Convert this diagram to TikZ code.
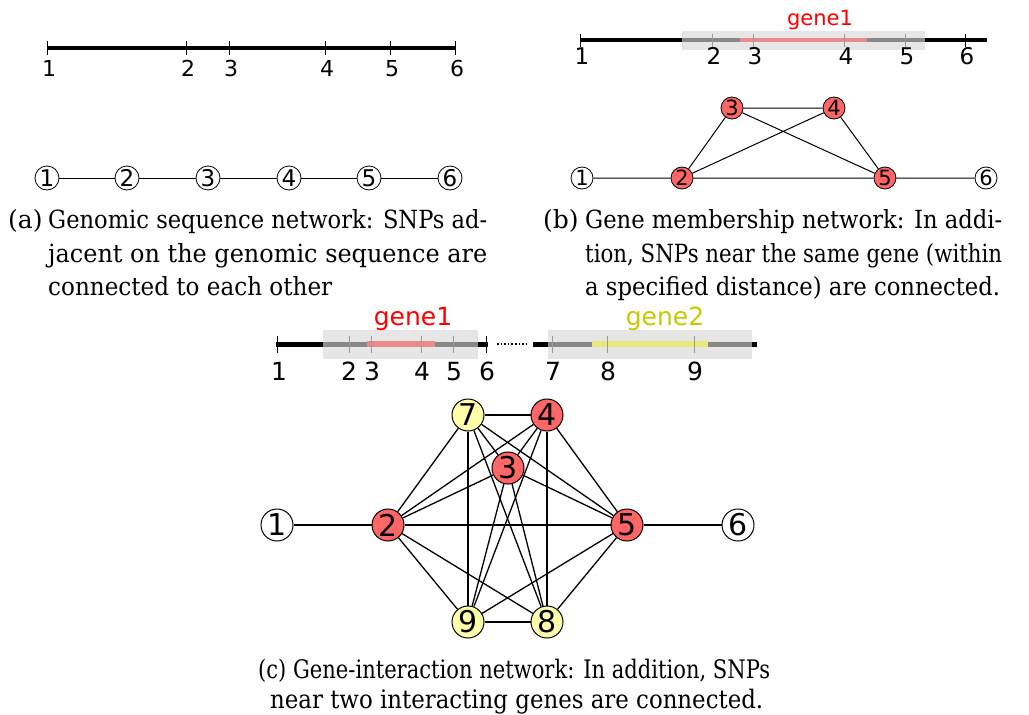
\documentclass[tikz,border=0pt]{standalone}
\usepackage{fontspec}
\usepackage{graphicx}
\setmainfont{DejaVu Serif}
\newfontfamily\labfont{DejaVu Sans}
\usetikzlibrary{backgrounds}
\definecolor{nodered}{HTML}{FF6666}
\definecolor{nodeyel}{HTML}{FFFFAA}
\definecolor{boxgray}{HTML}{E6E6E6}
\definecolor{linegray}{HTML}{888888}
\definecolor{tickgray}{HTML}{9A9A9A}
\definecolor{segpink}{HTML}{EB8A8A}
\definecolor{segyel}{HTML}{E8E87E}
\definecolor{geneyel}{HTML}{C8C800}
\tikzset{
  snpA/.style={circle,draw=black,line width=0.8pt,fill=white,minimum size=24pt,inner sep=0pt,font=\labfont\fontsize{23}{23}\selectfont},
  snpB/.style={circle,draw=black,line width=0.8pt,fill=white,minimum size=22pt,inner sep=0pt,font=\labfont\fontsize{21}{21}\selectfont},
  snpC/.style={circle,draw=black,line width=1pt,fill=white,minimum size=32pt,inner sep=0pt,font=\labfont\fontsize{30}{30}\selectfont},
  redn/.style={fill=nodered},
  yeln/.style={fill=nodeyel},
  edgeA/.style={line width=1pt,black},
  edgeC/.style={line width=1.3pt},
  poslabA/.style={anchor=base,inner sep=0pt,font=\labfont\fontsize{22}{22}\selectfont},
  poslabB/.style={anchor=base,inner sep=0pt,font=\labfont\fontsize{23}{23}\selectfont},
  poslabC/.style={anchor=base,inner sep=0pt,font=\labfont\fontsize{25}{25}\selectfont},
  capline/.style={anchor=base west,inner sep=0pt,font=\fontsize{25}{25}\selectfont},
  caplineC/.style={anchor=base west,inner sep=0pt,font=\fontsize{25.5}{25.5}\selectfont},
}
\begin{document}
\begin{tikzpicture}[x=1pt,y=-1pt]
\useasboundingbox (0,0) rectangle (1029,715);

% ---------------- panel (a) genome
\draw[line width=3.5pt] (47,48) -- (455,48);
\foreach \x/\l in {47/1,186/2,229/3,325/4,390/5,455/6}{
  \draw[line width=0.9pt] (\x,41) -- (\x,55);
  \node[poslabA] (al\l) at (\x+2,76) {\l};
}
% panel (a) network
\foreach \x/\l in {47/1,127/2,208/3,289/4,369/5,450/6}{
  \node[snpA] (a\l) at (\x,178) {\l};
}
\draw[edgeA] (a1) -- (a2) (a2) -- (a3) (a3) -- (a4) (a4) -- (a5) (a5) -- (a6);

% ---------------- panel (b) genome
\draw[line width=3.5pt] (580,40) -- (987,40);
\fill[boxgray] (682,31) rectangle (925,50);
\draw[linegray,line width=3.5pt] (682,40) -- (925,40);
\draw[segpink,line width=3.5pt] (740,40) -- (867,40);
\foreach \x in {712,753,844,905}{\draw[tickgray,line width=0.9pt] (\x,34) -- (\x,47);}
\foreach \x in {580,965}{\draw[line width=0.9pt] (\x,34) -- (\x,47);}
\foreach \x/\l in {582/1,714/2,755/3,846/4,907/5,967/6}{
  \node[poslabB] (bl\l) at (\x,64) {\l};
}
\node[anchor=base,inner sep=0pt,text=red,font=\labfont\fontsize{21}{21}\selectfont] (g1b) at (820,25) {gene1};
% panel (b) network
\node[snpB] (b1) at (582,178) {1};
\node[snpB,redn] (b2) at (682,178) {2};
\node[snpB,redn] (b3) at (732,108) {3};
\node[snpB,redn] (b4) at (834,108) {4};
\node[snpB,redn] (b5) at (885,178) {5};
\node[snpB] (b6) at (986,178) {6};
\begin{scope}[on background layer]
\draw[edgeA] (b1) -- (b2) (b2) -- (b5) (b5) -- (b6) (b2) -- (b3) (b2) -- (b4)
  (b3) -- (b4) (b3) -- (b5) (b4) -- (b5);
\end{scope}

% ---------------- captions (a), (b)
\node[capline] (capa0) at (8,228) {(a)};
\node[capline] (capa1) at (48,228) {\resizebox{439pt}{\height}{Genomic sequence network: SNPs ad-}};
\node[capline] (capa2) at (48,262) {\resizebox{439pt}{\height}{jacent on the genomic sequence are}};
\node[capline] (capa3) at (48,295) {\resizebox{284pt}{\height}{connected to each other}};
\node[capline] (capb0) at (543,228) {(b)};
\node[capline] (capb1) at (585,228) {\resizebox{417pt}{\height}{Gene membership network: In addi-}};
\node[capline] (capb2) at (585,262) {\resizebox{417pt}{\height}{tion, SNPs near the same gene (within}};
\node[capline] (capb3) at (585,295) {\resizebox{415pt}{\height}{a specified distance) are connected.}};

% ---------------- panel (c) genome
\draw[line width=5pt] (276,344) -- (488,344);
\draw[line width=5pt] (533,344) -- (757,344);
\fill[boxgray] (323,330) rectangle (478,359);
\fill[boxgray] (548,330) rectangle (752,359);
\draw[linegray,line width=5pt] (323,344) -- (478,344);
\draw[linegray,line width=5pt] (548,344) -- (752,344);
\draw[segpink,line width=5.5pt] (367,344) -- (435,344);
\draw[segyel,line width=5.5pt] (592,344) -- (708,344);
\draw[line width=1.6pt,dotted] (497,344) -- (529,344);
\foreach \x in {349,371,421,453,552,607,694}{\draw[tickgray,line width=1pt] (\x,336) -- (\x,353);}
\foreach \x in {277,486}{\draw[line width=1pt] (\x,336) -- (\x,353);}
\foreach \x/\l in {279/1,349/2,372/3,422/4,454/5,487/6,553/7,608/8,695/9}{
  \node[poslabC] (cl\l) at (\x,380) {\l};
}
\node[anchor=base,inner sep=0pt,text=red,font=\labfont\fontsize{25}{25}\selectfont] (g1c) at (413,325) {gene1};
\node[anchor=base,inner sep=0pt,text=geneyel,font=\labfont\fontsize{25}{25}\selectfont] (g2c) at (665,325) {gene2};

% panel (c) network
\node[snpC] (c1) at (277,525) {1};
\node[snpC,redn] (c2) at (388,525) {2};
\node[snpC,redn] (c3) at (508,468) {3};
\node[snpC,redn] (c4) at (547,415) {4};
\node[snpC,redn] (c5) at (627,525) {5};
\node[snpC] (c6) at (738,525) {6};
\node[snpC,yeln] (c7) at (468,415) {7};
\node[snpC,yeln] (c8) at (547,622) {8};
\node[snpC,yeln] (c9) at (468,622) {9};
\begin{scope}[on background layer]
\draw[edgeC] (c1) -- (c2) (c5) -- (c6);
\foreach \a/\b in {2/3,2/4,2/5,2/7,2/8,2/9,3/4,3/5,3/7,3/8,3/9,4/5,4/7,4/8,4/9,5/7,5/8,5/9,7/8,7/9,8/9}{
  \draw[edgeC] (c\a) -- (c\b);
}
\end{scope}

% ---------------- caption (c)
\node[caplineC] (capc1) at (258,678) {\resizebox{512pt}{\height}{(c) Gene-interaction network: In addition, SNPs}};
\node[caplineC] (capc2) at (270,708) {\resizebox{493pt}{\height}{near two interacting genes are connected.}};
\end{tikzpicture}
\end{document}
